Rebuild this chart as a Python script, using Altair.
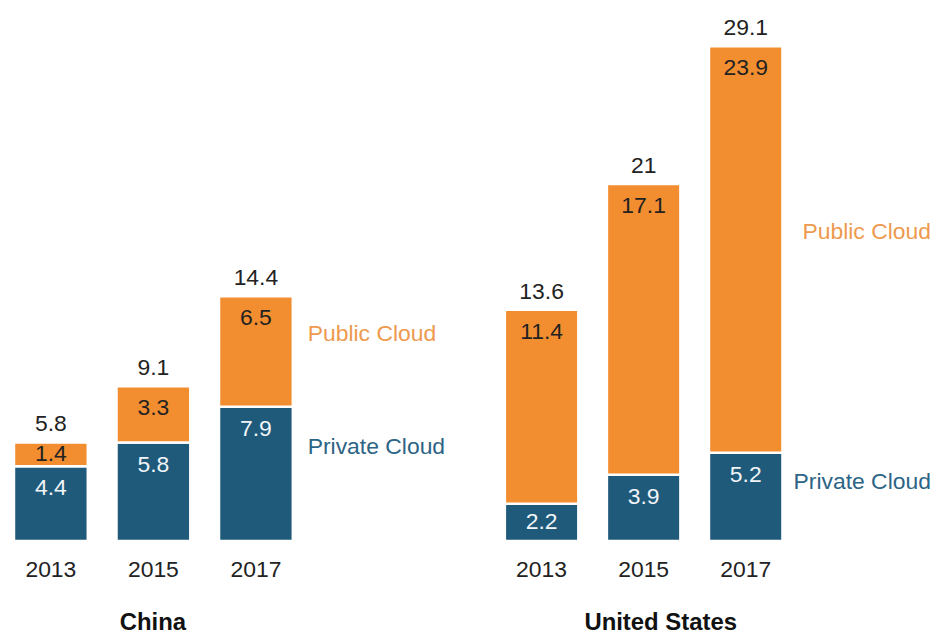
import altair as alt
import pandas as pd

years = ["2013", "2015", "2017"]
series = ["Private Cloud", "Public Cloud"]
china_private = [4.4, 5.8, 7.9]
china_public = [1.4, 3.3, 6.5]
us_private = [2.2, 3.9, 5.2]
us_public = [11.4, 17.1, 23.9]

ORANGE = "#F28E2F"
BLUE = "#1F5A7B"
ORANGE_TXT = "#EE9A4E"
BLUE_TXT = "#2C6485"
DARK = "#222222"
FONT = "Liberation Sans"


def make_df(private, public):
    rows = []
    for i, y in enumerate(years):
        rows.append({"year": y, "series": series[0], "order": 0, "value": private[i],
                     "label": f"{private[i]:g}"})
        rows.append({"year": y, "series": series[1], "order": 1, "value": public[i],
                     "label": f"{public[i]:g}"})
    return pd.DataFrame(rows)


def panel(df, title, width, pad_outer, title_x, pub_dx, pub_dy, priv_dx, priv_dy):
    xscale = alt.Scale(domain=years, paddingInner=0.28, paddingOuter=pad_outer, align=0)
    yscale = alt.Scale(domain=[0, 31.27], nice=False, zero=True)
    xenc = alt.X("year:N", scale=xscale,
                 axis=alt.Axis(title=title, labelAngle=0, domain=False, ticks=False, tickSize=0,
                               grid=False,
                               labelPadding=18, labelFontSize=23, labelColor=DARK, labelFont=FONT,
                               titleFont=FONT, titleFontSize=24, titleFontWeight="bold",
                               titleColor="#111111", titleX=title_x, titleBaseline="alphabetic",
                               titleY=89))

    base = alt.Chart(df).transform_stack(
        stack="value", groupby=["year"], as_=["y0", "y1"],
        sort=[alt.SortField("order", order="ascending")]
    )

    bars = base.mark_bar(stroke="white", strokeWidth=2.5).encode(
        x=xenc,
        y=alt.Y("y1:Q", scale=yscale, axis=None),
        y2="y0:Q",
        color=alt.Color("series:N", scale=alt.Scale(domain=series, range=[BLUE, ORANGE]), legend=None),
    )

    vals = base.transform_calculate(
        ly="max(datum.y1 - 1.3, (datum.y0 + datum.y1) / 2)"
    ).mark_text(font=FONT, fontSize=23, baseline="middle").encode(
        x=alt.X("year:N", scale=xscale),
        y=alt.Y("ly:Q", scale=yscale),
        text="label:N",
        color=alt.condition(alt.datum.series == "Private Cloud", alt.value("#F2F5F8"), alt.value(DARK)),
    )

    totals = alt.Chart(df).transform_aggregate(
        total="sum(value)", groupby=["year"]
    ).mark_text(font=FONT, fontSize=23, baseline="alphabetic", dy=-11, color=DARK).encode(
        x=alt.X("year:N", scale=xscale),
        y=alt.Y("total:Q", scale=yscale),
        text=alt.Text("total:Q", format=".4~g"),
    )

    last = base.transform_filter(alt.datum.year == years[-1]).transform_calculate(
        mid="(datum.y0 + datum.y1) / 2"
    )
    pub_lab = last.transform_filter(alt.datum.series == "Public Cloud").mark_text(
        font=FONT, fontSize=23, align="left", baseline="middle", dx=pub_dx, dy=pub_dy, color=ORANGE_TXT
    ).encode(x=alt.X("year:N", scale=xscale), y=alt.Y("mid:Q", scale=yscale), text="series:N")
    priv_lab = last.transform_filter(alt.datum.series == "Private Cloud").mark_text(
        font=FONT, fontSize=23, align="left", baseline="middle", dx=priv_dx, dy=priv_dy, color=BLUE_TXT
    ).encode(x=alt.X("year:N", scale=xscale), y=alt.Y("mid:Q", scale=yscale), text="series:N")

    return alt.layer(bars, vals, totals, pub_lab, priv_lab).properties(width=width, height=534)


china = panel(make_df(china_private, china_public), "China", 440, 0.7767, 139, 52, -18, 52, -27)
us = panel(make_df(us_private, us_public), "United States", 428, 0.7278, 156, 57, -17, 48, -15)

chart = alt.hconcat(china, us, spacing=51).properties(
    padding={"left": 4, "top": 0, "right": 0, "bottom": 0},
    background="white",
).configure_view(strokeWidth=0, stroke="transparent")

chart.save("out.html", embed_options={"renderer": "svg", "actions": False})
